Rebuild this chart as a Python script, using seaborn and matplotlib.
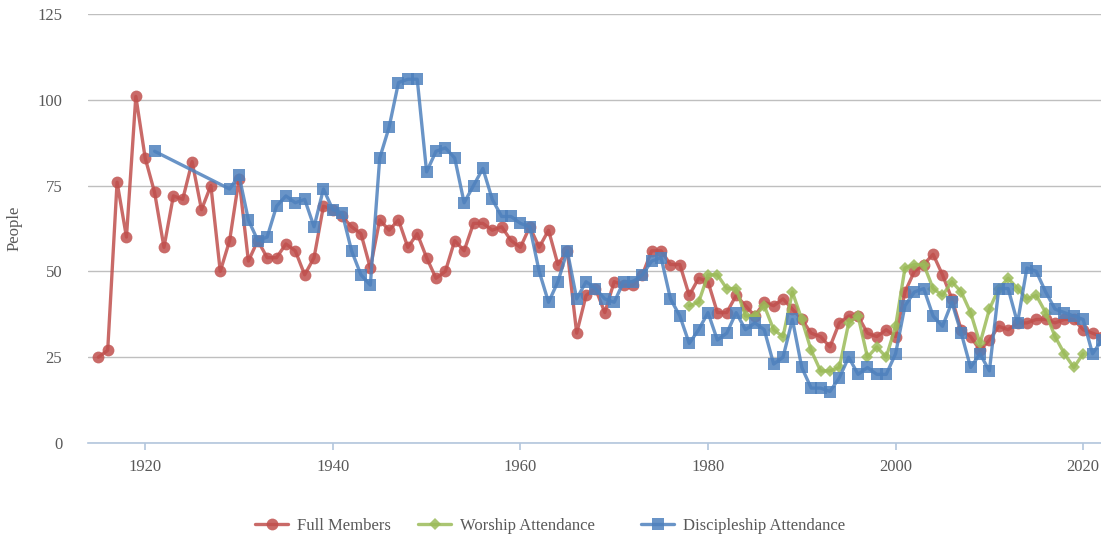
import matplotlib
matplotlib.use("Agg")
import matplotlib.pyplot as plt
import seaborn as sns
import numpy as np
import pandas as pd

# ---- data ----
member_years = list(range(1915, 2023))
full_members = [
    25, 27, 76, 60, 101, 83, 73, 57, 72, 71,      # 1915-1924
    82, 68, 75, 50, 59, 77, 53, 59, 54, 54,       # 1925-1934
    58, 56, 49, 54, 69, 68, 66, 63, 61, 51,       # 1935-1944
    65, 62, 65, 57, 61, 54, 48, 50, 59, 56,       # 1945-1954
    64, 64, 62, 63, 59, 57, 63, 57, 62, 52,       # 1955-1964
    56, 32, 43, 45, 38, 47, 46, 46, 49, 56,       # 1965-1974
    56, 52, 52, 43, 48, 47, 38, 38, 43, 40,       # 1975-1984
    37, 41, 40, 42, 39, 36, 32, 31, 28, 35,       # 1985-1994
    37, 37, 32, 31, 33, 31, 44, 50, 52, 55,       # 1995-2004
    49, 42, 33, 31, 27, 30, 34, 33, 35, 35,       # 2005-2014
    36, 36, 35, 36, 36, 33, 32, 31,               # 2015-2022
]

worship_years = list(range(1978, 2021))
worship_attendance = [
    40, 41, 49, 49, 45, 45, 37, 37, 40, 33,       # 1978-1987
    31, 44, 36, 27, 21, 21, 22, 35, 37, 25,       # 1988-1997
    28, 25, 34, 51, 52, 52, 45, 43, 47, 44,       # 1998-2007
    38, 29, 39, 45, 48, 45, 42, 43, 38, 31,       # 2008-2017
    26, 22, 26,                                   # 2018-2020
]

disc_years = [1921] + list(range(1929, 2023))
discipleship_attendance = [
    85,                                           # 1921
    74, 78, 65, 59, 60, 69, 72, 70, 71, 63,       # 1929-1938
    74, 68, 67, 56, 49, 46, 83, 92, 105, 106,     # 1939-1948
    106, 79, 85, 86, 83, 70, 75, 80, 71, 66,      # 1949-1958
    66, 64, 63, 50, 41, 47, 56, 42, 47, 45,       # 1959-1968
    42, 41, 47, 47, 49, 53, 54, 42, 37, 29,       # 1969-1978
    33, 38, 30, 32, 38, 33, 35, 33, 23, 25,       # 1979-1988
    36, 22, 16, 16, 15, 19, 25, 20, 22, 20,       # 1989-1998
    20, 26, 40, 44, 45, 37, 34, 41, 32, 22,       # 1999-2008
    26, 21, 45, 45, 35, 51, 50, 44, 39, 38,       # 2009-2018
    37, 36, 26, 30,                               # 2019-2022
]

y_ticks = [0, 25, 50, 75, 100, 125]
x_ticks = [1920, 1940, 1960, 1980, 2000, 2020]

# ---- style ----
sns.set_theme(style="white")
plt.rcParams['font.family'] = ['Liberation Serif', 'DejaVu Serif']

RED = "#C0504D"
GREEN = "#9BBB59"
BLUE = "#4F81BD"
TEXT = "#595959"

fig = plt.figure(figsize=(11.01, 5.38), dpi=100)
ax = fig.add_axes([88 / 1101, 95 / 538, 1 - 88 / 1101, (443 - 14) / 538])

df_m = pd.DataFrame({"year": member_years, "value": full_members})
df_w = pd.DataFrame({"year": worship_years, "value": worship_attendance})
df_d = pd.DataFrame({"year": disc_years, "value": discipleship_attendance})

common = dict(linewidth=2.4, alpha=0.85, markeredgewidth=0, ax=ax, zorder=3)
sns.lineplot(data=df_m, x="year", y="value", color=RED, marker="o",
             markersize=8.5, label="Full Members", **common)
sns.lineplot(data=df_w, x="year", y="value", color=GREEN, marker="D",
             markersize=6.5, label="Worship Attendance", **common)
sns.lineplot(data=df_d, x="year", y="value", color=BLUE, marker="s",
             markersize=9, label="Discipleship Attendance", **common)

ax.set_xlim(1913.9, 2021.9)
ax.set_ylim(0, 125)
ax.set_yticks(y_ticks)
ax.set_xticks(x_ticks)
ax.set_xlabel("")
ax.set_ylabel("People", fontsize=12, color=TEXT)
ax.yaxis.set_label_coords(-(88 - 23) / 1013, 0.5)

ax.yaxis.grid(True, color="#BFBFBF", linewidth=1.0, zorder=0)
ax.xaxis.grid(False)
for s in ["left", "right", "top"]:
    ax.spines[s].set_visible(False)
ax.spines["bottom"].set_color("#B3C6DD")
ax.spines["bottom"].set_linewidth(1.2)
ax.spines["bottom"].set_zorder(2)

ax.tick_params(axis="x", which="major", direction="out", length=5, width=1.2,
               color="#B3C6DD", labelsize=12, labelcolor=TEXT, pad=6.5, bottom=True)
ax.tick_params(axis="y", length=0, labelsize=12, labelcolor=TEXT, pad=18.5)
for lbl in ax.get_yticklabels():
    lbl.set_horizontalalignment("right")

handles, labels = ax.get_legend_handles_labels()
ax.get_legend().remove()
# one legend entry per box so each sits where the reference puts it
legend_x = [255, 418, 641]
for h, l, lx in zip(handles, labels, legend_x):
    fig.legend([h], [l], loc="center left", bbox_to_anchor=(lx / 1101, 12 / 538),
               frameon=False, fontsize=12, labelcolor=TEXT, borderpad=0,
               borderaxespad=0, handlelength=2.0, handletextpad=0.5)

fig.savefig("out.png", dpi=100)
